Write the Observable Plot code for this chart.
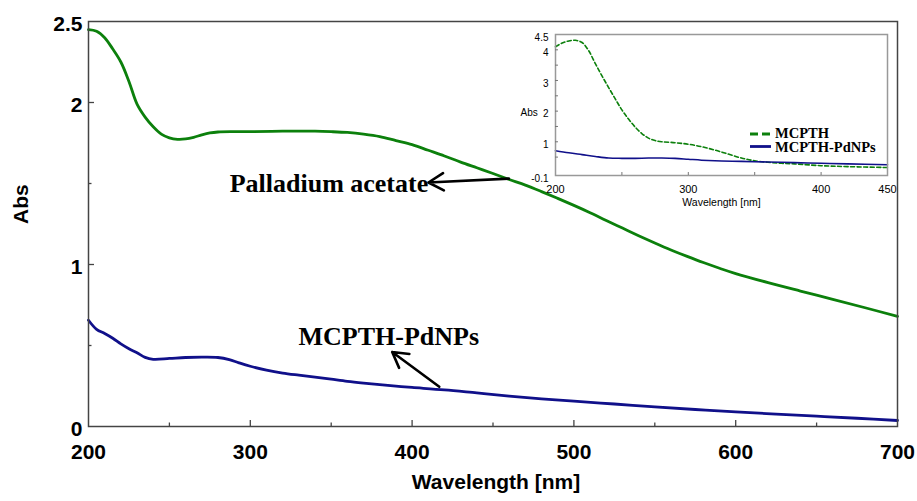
<!DOCTYPE html>
<html><head><meta charset="utf-8">
<script src="https://cdn.jsdelivr.net/npm/d3@7"></script>
<script src="https://cdn.jsdelivr.net/npm/@observablehq/plot@0.6"></script>
<style>
body{margin:0;background:#fff;}
#wrap{position:relative;width:917px;height:501px;overflow:hidden;background:#fff;}
#inset{position:absolute;left:498px;top:24px;}
#legend{position:absolute;left:0;top:0;pointer-events:none;}
</style></head><body><div id="wrap"></div>
<script>
// ---- Main chart data ----
const paWavelength = [200,205,210,215,220,225,230,235,240,245,250,255,260,265,270,275,280,290,300,320,340,350,360,370,380,390,400,410,420,430,440,450,460,470,480,490,500,510,520,530,540,550,560,570,580,590,600,620,640,660,680,700];
const paAbs = [2.45,2.44,2.40,2.33,2.25,2.13,1.99,1.91,1.85,1.805,1.782,1.773,1.775,1.785,1.80,1.812,1.818,1.82,1.82,1.823,1.823,1.82,1.815,1.805,1.79,1.765,1.74,1.705,1.67,1.632,1.597,1.562,1.525,1.49,1.45,1.408,1.365,1.32,1.272,1.225,1.178,1.133,1.09,1.05,1.012,0.977,0.944,0.888,0.836,0.785,0.733,0.68];

const pdWavelength = [200,205,210,215,220,225,230,235,240,250,260,270,280,287,293,300,310,320,330,340,350,360,370,380,390,400,420,440,460,480,500,525,550,575,600,625,650,675,700];
const pdAbs = [0.656,0.60,0.574,0.545,0.51,0.48,0.455,0.427,0.415,0.42,0.426,0.428,0.426,0.413,0.393,0.372,0.348,0.33,0.317,0.305,0.292,0.279,0.268,0.258,0.249,0.241,0.226,0.207,0.188,0.171,0.156,0.139,0.121,0.105,0.09,0.077,0.064,0.051,0.037];

const annLabels = ["Palladium acetate", "MCPTH-PdNPs"];
const annX = [348.6, 385.6];
const annY = [1.50, 0.553];

const arrowX1 = [459.8, 416.8];
const arrowY1 = [1.53, 0.245];
const arrowX2 = [410.1, 387.7];
const arrowY2 = [1.506, 0.46];

const xTickLabels = [200,300,400,500,600,700];
const xMajorTicks = [300,400,500,600];
const xMinorTicks = [250,350,450,550,650];
const yTickLabels = [0,1,2,2.5];
const yMajorTicks = [1,2];
const yMinorTicks = [0.5,1.5];

// ---- Inset data ----
const mcWavelength = [200,205,210,215,220,225,230,235,240,245,250,255,260,265,270,275,280,290,300,310,320,330,340,350,360,370,380,400,420,450];
const mcAbs = [4.10,4.22,4.29,4.31,4.24,3.97,3.55,3.15,2.77,2.40,2.04,1.74,1.48,1.27,1.12,1.04,1.0,0.97,0.92,0.84,0.73,0.60,0.47,0.38,0.33,0.30,0.28,0.22,0.19,0.16];
const piWavelength = [200,210,220,230,240,250,260,270,280,290,300,310,320,340,360,380,400,420,450];
const piAbs = [0.71,0.64,0.58,0.52,0.47,0.46,0.46,0.47,0.47,0.46,0.43,0.40,0.38,0.36,0.34,0.32,0.30,0.28,0.25];

const insetXTickLabels = [200,300,400,450];
const insetXTicks = [250,300,350,400];
const insetYTickLabels = [-0.1,1,2,3,4,4.5];
const insetYTicks = [0.5,1,1.5,2,2.5,3,3.5,4];
const legendLabels = ["MCPTH", "MCPTH-PdNPs"];

// ---- Styles ----
const SANS = '"Liberation Sans", Arial, Helvetica, sans-serif';
const SERIF = '"Liberation Serif", "Times New Roman", Times, serif';
const GREEN = "#0c800c";
const BLUE = "#10108a";
const AXIS = "#444";

const pa = paWavelength.map((w, i) => ({wl: w, abs: paAbs[i]}));
const pd = pdWavelength.map((w, i) => ({wl: w, abs: pdAbs[i]}));
const ann = annLabels.map((t, i) => ({label: t, wl: annX[i], abs: annY[i]}));
const arrows = arrowX1.map((x, i) => ({x1: x, y1: arrowY1[i], x2: arrowX2[i], y2: arrowY2[i]}));
const mc = mcWavelength.map((w, i) => ({wl: w, abs: mcAbs[i]}));
const pi = piWavelength.map((w, i) => ({wl: w, abs: piAbs[i]}));

const blank = () => "";

const main = Plot.plot({
  width: 917, height: 501,
  marginLeft: 88, marginRight: 20, marginTop: 21, marginBottom: 75,
  style: {fontFamily: SANS, background: "white", color: "#000", overflow: "visible"},
  x: {domain: [200, 700], label: null},
  y: {domain: [0, 2.5], label: null},
  marks: [
    Plot.line(pa, {x: "wl", y: "abs", stroke: GREEN, strokeWidth: 2.8, curve: "catmull-rom"}),
    Plot.line(pd, {x: "wl", y: "abs", stroke: BLUE, strokeWidth: 2.8, curve: "catmull-rom"}),
    Plot.frame({stroke: AXIS, strokeWidth: 1.5}),
    Plot.axisX({ticks: xMajorTicks, tickSize: 6, dy: -6, tickFormat: blank, label: null, stroke: AXIS, strokeWidth: 1.3}),
    Plot.axisX({ticks: xMinorTicks, tickSize: 3.5, dy: -3.5, tickFormat: blank, label: null, stroke: AXIS, strokeWidth: 1.3}),
    Plot.axisY({ticks: yMajorTicks, tickSize: 6, dx: 6, tickFormat: blank, label: null, stroke: AXIS, strokeWidth: 1.3}),
    Plot.axisY({ticks: yMinorTicks, tickSize: 3.5, dx: 3.5, tickFormat: blank, label: null, stroke: AXIS, strokeWidth: 1.3}),
    Plot.axisX({ticks: xTickLabels, tickSize: 0, tickPadding: 18, tickFormat: d => String(d), label: null, fontSize: 21, fontWeight: "bold"}),
    Plot.axisY({ticks: yTickLabels, tickSize: 0, tickPadding: 6, dy: 3, tickFormat: d => String(d), label: null, fontSize: 21, fontWeight: "bold"}),
    Plot.text(["Wavelength [nm]"], {frameAnchor: "bottom", dy: 62, dx: 3, lineAnchor: "bottom", fontSize: 21, fontWeight: "bold"}),
    Plot.text(["Abs"], {frameAnchor: "left", dx: -67.5, rotate: -90, fontSize: 21, fontWeight: "bold"}),
    Plot.arrow(arrows, {x1: "x1", y1: "y1", x2: "x2", y2: "y2", stroke: "#000", strokeWidth: 2.6, headLength: 10}),
    Plot.text(ann, {x: "wl", y: "abs", text: "label", fontFamily: SERIF, fontSize: 26, fontWeight: "bold", fill: "#000"})
  ]
});

const inset = Plot.plot({
  width: 397, height: 188,
  marginLeft: 57, marginRight: 8, marginTop: 10, marginBottom: 37,
  style: {fontFamily: SANS, background: "transparent", color: "#000", overflow: "visible"},
  x: {domain: [200, 450], label: null},
  y: {domain: [-0.1, 4.5], label: null},
  marks: [
    Plot.line(mc, {x: "wl", y: "abs", stroke: GREEN, strokeWidth: 1.6, strokeDasharray: "4,2.5", curve: "catmull-rom"}),
    Plot.line(pi, {x: "wl", y: "abs", stroke: BLUE, strokeWidth: 1.6, curve: "catmull-rom"}),
    Plot.frame({stroke: "#999", strokeWidth: 1.5}),
    Plot.axisX({ticks: insetXTicks, tickSize: 3, dy: -3, tickFormat: blank, label: null, stroke: "#777"}),
    Plot.axisY({ticks: insetYTicks, tickSize: 3, dx: 3, tickFormat: blank, label: null, stroke: "#777"}),
    Plot.axisX({ticks: insetXTickLabels, tickSize: 0, tickPadding: 10, tickFormat: d => String(d), label: null, fontSize: 11}),
    Plot.axisY({ticks: insetYTickLabels, tickSize: 0, tickPadding: 7, dy: 3, tickFormat: d => String(d), label: null, fontSize: 10}),
    Plot.text(["Wavelength [nm]"], {frameAnchor: "bottom", dy: 30, lineAnchor: "bottom", fontSize: 10.5}),
    Plot.text(["Abs"], {frameAnchor: "left", dx: -35, dy: 8, fontSize: 10})
  ]
});
inset.id = "inset";

const wrap = document.getElementById("wrap");
wrap.appendChild(main);
wrap.appendChild(inset);

// Legend for the inset, drawn as plain SVG on top
const leg = d3.create("svg").attr("id", "legend").attr("width", 917).attr("height", 501);
const legStyles = [
  {stroke: GREEN, dash: "8,4", y: 134, ty: 137.8},
  {stroke: BLUE, dash: null, y: 146.5, ty: 152.2}
];
legendLabels.forEach((t, i) => {
  const s = legStyles[i];
  leg.append("line").attr("x1", 750).attr("x2", 771).attr("y1", s.y).attr("y2", s.y)
    .attr("stroke", s.stroke).attr("stroke-width", 2.8).attr("stroke-dasharray", s.dash);
  leg.append("text").attr("x", 775).attr("y", s.ty).text(t)
    .attr("font-family", SERIF).attr("font-weight", "bold").attr("font-size", 14.5).attr("fill", "#000");
});
wrap.appendChild(leg.node());
</script></body></html>
